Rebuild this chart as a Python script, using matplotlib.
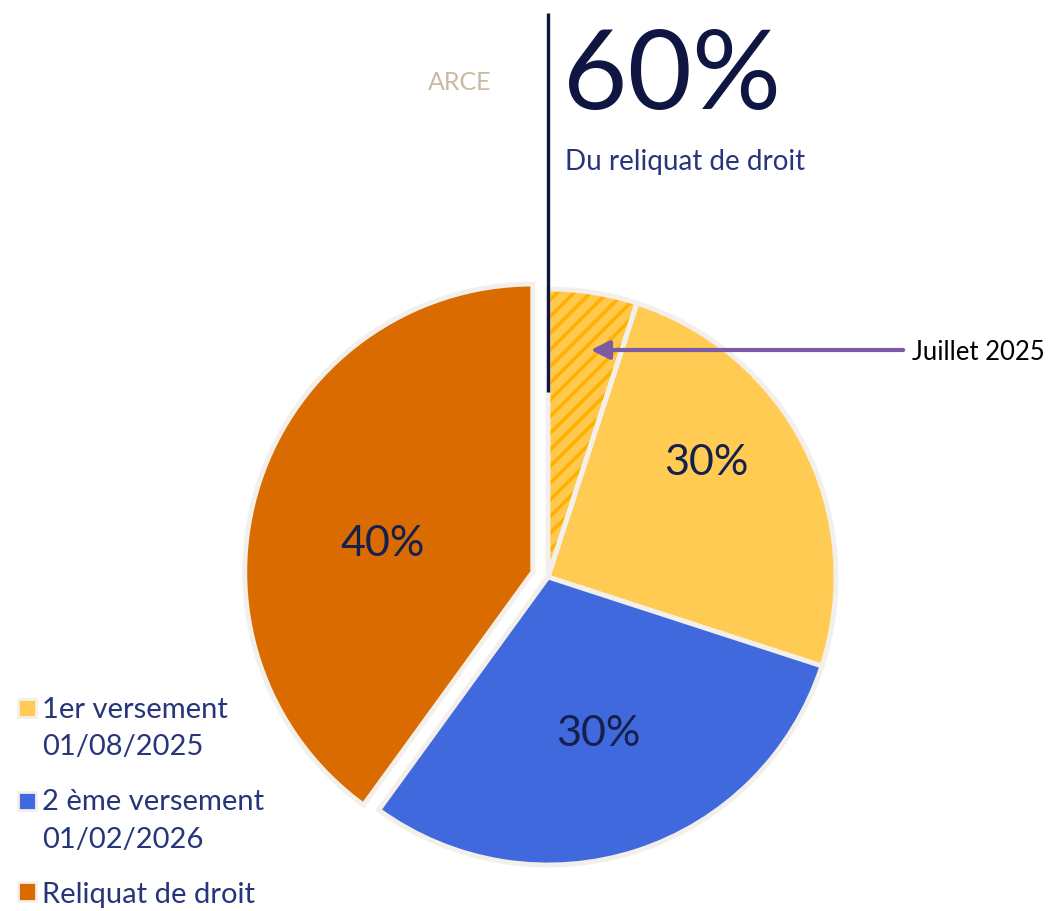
import numpy as np
import matplotlib
matplotlib.use('Agg')
import matplotlib.pyplot as plt
import matplotlib.patches as mpatches
from matplotlib.legend_handler import HandlerPatch

plt.rcParams['font.family'] = ['Lato', 'DejaVu Sans']
plt.rcParams['hatch.linewidth'] = 2.6

# slices clockwise from 12 o'clock: part paid in July 2025 (hatched), rest of 1st payment, 2nd payment, remainder
slices = [5, 25, 30, 40]
slice_colors = ['#FFC94F', '#FFCB52', '#4169DE', '#D96B00']
pct_labels = ['30%', '30%', '40%']
pct_groups = [[0, 1], [2], [3]]
legend_labels = ['1er versement\n01/08/2025', '2 ème versement\n01/02/2026', 'Reliquat de droit']
legend_colors = ['#FFCB52', '#4169DE', '#D96B00']

W, H = 1051, 912
navy = '#0F1641'
text_blue = '#27357A'
edge = '#F3EFEA'

fig = plt.figure(figsize=(W / 100, H / 100), dpi=100)
ax = fig.add_axes([0, 0, 1, 1])

cx, cy, R = 548, H - 578, 288
explode = [0, 0, 0, 16]  # matplotlib uses data units here
wedges, _ = ax.pie(slices, colors=slice_colors, startangle=90, counterclock=False,
                   center=(cx, cy), radius=R, explode=explode,
                   wedgeprops=dict(edgecolor=edge, linewidth=3.5))

# hatched part (July 2025)
w0 = wedges[0]
w0.set_edgecolor('#FFB000')
w0.set_hatch('//')
w0.set_linewidth(0)
ax.add_patch(mpatches.Wedge(w0.center, w0.r, w0.theta1, w0.theta2,
                            fill=False, edgecolor=edge, linewidth=3.5))

# percentage labels
cum = np.concatenate([[0], np.cumsum(slices)])
label_r = [0.68, 0.57, 0.53]
label_nudge = [0, 0, 7]  # degrees
for lab, grp, lr, nd in zip(pct_labels, pct_groups, label_r, label_nudge):
    mid = (cum[grp[0]] + cum[grp[-1] + 1]) / 2 / sum(slices)
    ang_c = np.deg2rad(90 - 360 * mid)
    ang = ang_c + np.deg2rad(nd)
    ex = explode[grp[0]]
    x = cx + ex * np.cos(ang_c) + lr * R * np.cos(ang)
    y = cy + ex * np.sin(ang_c) + lr * R * np.sin(ang)
    ax.text(x, y, lab, ha='center', va='center', fontsize=31, color='#16204D')

# header block
ax.plot([cx, cx], [H - 14, H - 393], color=navy, lw=2.4, solid_capstyle='butt')
ax.text(460, H - 82, 'ARCE', ha='center', va='center', fontsize=18, color='#C9B9A0')
ax.text(563, H - 78, '60%', ha='left', va='center', fontsize=80, color=navy)
ax.text(565, H - 162, 'Du reliquat de droit', ha='left', va='center', fontsize=20, color=text_blue)

# arrow to the hatched slice
ax.annotate('', xy=(588, H - 351), xytext=(906, H - 351),
            arrowprops=dict(arrowstyle='-|>', color='#7B5BA6', lw=3, mutation_scale=28))
ax.text(912, H - 353, 'Juillet 2025', ha='left', va='center', fontsize=18.5, color='black')


# legend squares sit next to the first line of each label
def top_aligned(n_lines):
    def make(legend, orig_handle, xdescent, ydescent, width, height, fontsize):
        dy = 14 * (n_lines - 1)
        return mpatches.Rectangle((-xdescent, -ydescent + dy), width, height)
    return make


handles = [mpatches.Patch(facecolor=c, edgecolor=edge, linewidth=2) for c in legend_colors]
hmap = {h: HandlerPatch(patch_func=top_aligned(lab.count('\n') + 1))
        for h, lab in zip(handles, legend_labels)}
leg = ax.legend(handles, legend_labels, handler_map=hmap, loc='lower left',
                bbox_to_anchor=(0.012, -0.002), frameon=False, fontsize=21,
                handlelength=0.6, handleheight=0.6, handletextpad=0.22,
                labelspacing=1.0, borderaxespad=0, borderpad=0.2)
for t in leg.get_texts():
    t.set_color(text_blue)
    t.set_linespacing(1.55)

ax.set_xlim(0, W)
ax.set_ylim(0, H)
ax.set_aspect('auto')
ax.axis('off')
fig.savefig('out.png', dpi=100)
